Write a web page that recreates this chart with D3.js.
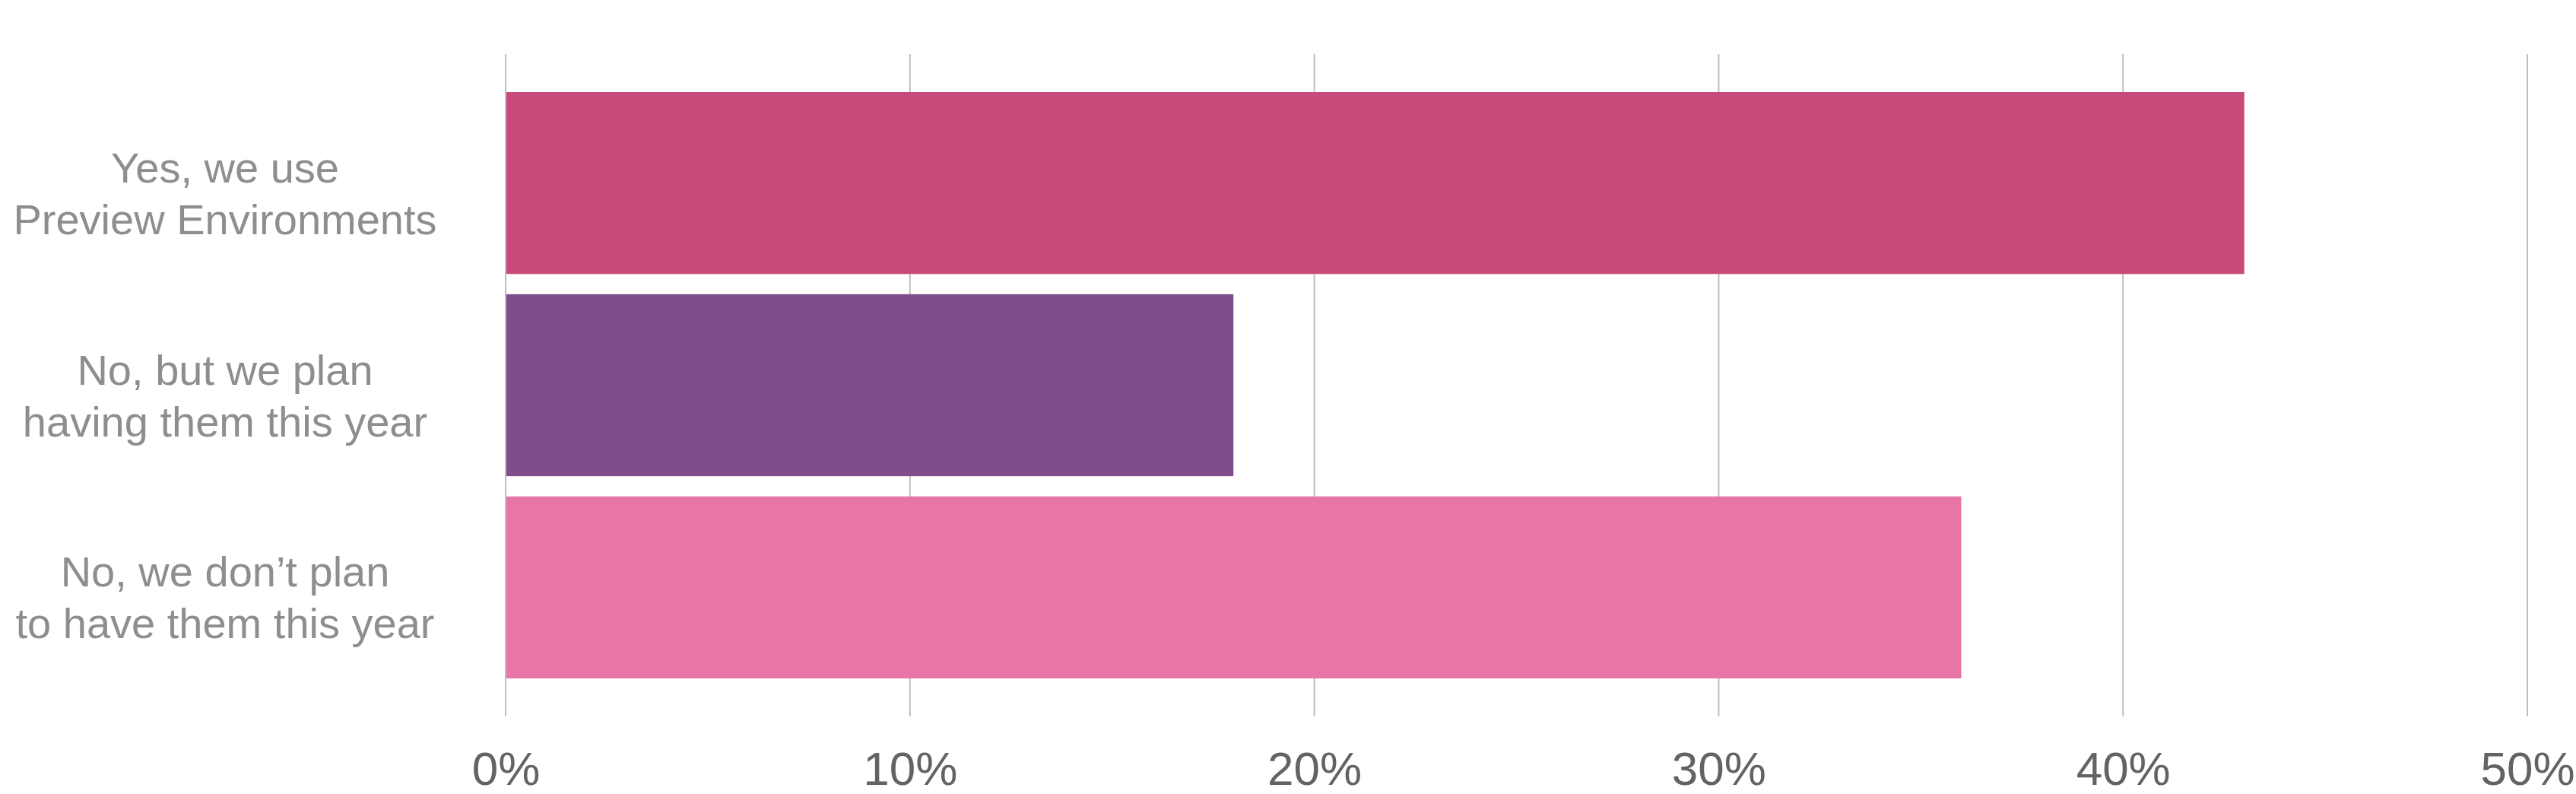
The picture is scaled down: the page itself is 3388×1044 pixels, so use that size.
<!DOCTYPE html>
<html>
<head>
<meta charset="utf-8">
<script src="https://cdn.jsdelivr.net/npm/d3@7"></script>
<style>
  body { margin: 0; background: #fff; }
  svg { display: block; }
</style>
</head>
<body>
<div id="chart"></div>
<script>
// chart values
let categories = [
    ["Yes, we use", "Preview Environments"],
    ["No, but we plan", "having them this year"],
    ["No, we don\u2019t plan", "to have them this year"]
];
let values = [43, 18, 36];
let barColors = ["#c74a7b", "#804d8c", "#e775a6"];
let ticks = [0, 10, 20, 30, 40, 50];

let width = 3388;
let height = 1044;
let font = "'Liberation Sans', Arial, Helvetica, sans-serif";

let svg = d3.select("#chart")
    .append("svg")
    .attr("width", width)
    .attr("height", height);

let x = d3.scaleLinear()
    .domain([0, 50])
    .range([665, 3324]);

let y = d3.scaleBand()
    .domain(d3.range(categories.length))
    .range([121, 892])
    .paddingInner(0.1)
    .paddingOuter(0);

// vertical gridlines
svg.append("g")
    .selectAll("line")
    .data(ticks)
    .join("line")
    .attr("x1", d => x(d))
    .attr("x2", d => x(d))
    .attr("y1", 71)
    .attr("y2", 942)
    .attr("stroke", "#bcbfc2")
    .attr("stroke-width", 2);

// bars
svg.append("g")
    .selectAll("rect")
    .data(values)
    .join("rect")
    .attr("x", x(0) + 1)
    .attr("y", (d, i) => y(i))
    .attr("width", d => x(d) - x(0) - 1)
    .attr("height", y.bandwidth())
    .attr("fill", (d, i) => barColors[i]);

// x axis labels
let xAxis = d3.axisBottom(x)
    .tickValues(ticks)
    .tickFormat(d => d + "%")
    .tickSize(0)
    .tickPadding(0);

let ax = svg.append("g")
    .attr("transform", "translate(0,1010)")
    .call(xAxis);
ax.select(".domain").remove();
ax.selectAll("text")
    .attr("dy", "0.36em")
    .attr("y", 0)
    .attr("font-family", font)
    .attr("font-size", 62)
    .attr("fill", "#636366");

// category labels, two lines each
let labels = svg.append("g")
    .selectAll("text")
    .data(categories)
    .join("text")
    .attr("text-anchor", "middle")
    .attr("font-family", font)
    .attr("font-size", 56)
    .attr("fill", "#8e8d91");

labels.selectAll("tspan")
    .data((d, i) => d.map((line, j) => ({line: line, j: j, i: i})))
    .join("tspan")
    .attr("x", 296)
    .attr("y", d => y(d.i) + y.bandwidth() / 2 - 1 + d.j * 68)
    .text(d => d.line);
</script>
</body>
</html>
